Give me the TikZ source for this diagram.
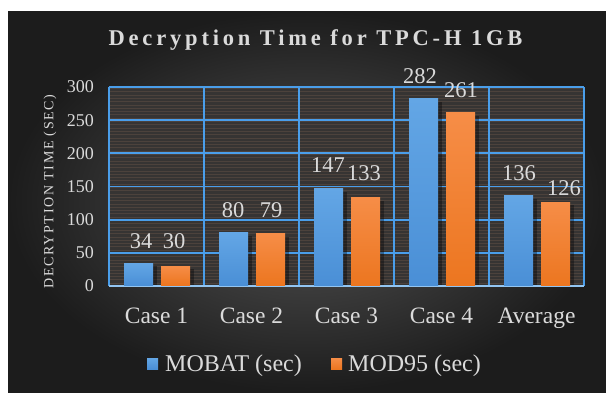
\documentclass[tikz,border=0pt]{standalone}
\usepackage{fontspec}
\setmainfont{Liberation Serif}
\definecolor{bgin}{HTML}{555555}
\definecolor{bgout}{HTML}{1C1C1C}
\definecolor{txt}{HTML}{DADADA}
\definecolor{gridc}{HTML}{4A9EEA}
\definecolor{plotbg}{HTML}{363433}
\definecolor{stripec}{HTML}{564840}
\definecolor{blueTop}{HTML}{63A6E5}
\definecolor{blueBot}{HTML}{4A8FD6}
\definecolor{orTop}{HTML}{F68D47}
\definecolor{orBot}{HTML}{EC7620}
\tikzset{
  txtfont/.style={text=txt, inner sep=0pt},
  valuelbl/.style={txtfont, anchor=base, font=\fontsize{22.5pt}{24pt}\selectfont},
  ticklbl/.style={txtfont, anchor=east, font=\fontsize{18pt}{20pt}\selectfont},
  catlbl/.style={txtfont, anchor=base, font=\fontsize{23.5pt}{25pt}\selectfont},
  leglbl/.style={txtfont, anchor=base west, font=\fontsize{24pt}{26pt}\selectfont},
  gridline/.style={draw=gridc, line width=1.8pt},
  stripe/.style={draw=stripec, line width=1pt, opacity=0.7},
  bluebar/.style={top color=blueTop, bottom color=blueBot},
  orbar/.style={top color=orTop, bottom color=orBot},
  barshadow/.style={fill=black, opacity=0.35},
}
\begin{document}
\begin{tikzpicture}[x=1pt, y=-1pt]
\useasboundingbox (0,0) rectangle (606,392);
\fill[white] (0,0) rectangle (606,392);
% dark backdrop with a soft central glow
\shade[inner color=bgin, outer color=bgout] (8,11) rectangle (606,392);

% title
\node[txtfont, font=\fontsize{22.5pt}{24pt}\selectfont\bfseries\addfontfeature{LetterSpace=17}]
  (title) at (315.5,40) {Decryption Time for TPC-H 1GB};

% plot area with fine horizontal hatching
\fill[plotbg] (109,87) rectangle (584,286);
\begin{scope}
  \clip (109,87) rectangle (584,286);
  \foreach \k in {0,...,61} \draw[stripe] (109,{88.5+\k*3.3}) -- (584,{88.5+\k*3.3});
\end{scope}

% grid
\foreach \v in {0,50,...,300}
  \draw[gridline] (109,{286-\v*0.6633}) -- (584,{286-\v*0.6633});
\foreach \i in {0,...,5}
  \draw[gridline] ({109+95*\i},87) -- ({109+95*\i},286);
\draw[draw=gridc!60!white, line width=1.5pt] (109,286) -- (584,286);

% bars: category, MOBAT value, MOD95 value
\foreach \i/\a/\b in {0/34/30, 1/80/79, 2/147/133, 3/282/261, 4/136/126} {
  \fill[barshadow] ({109+95*\i+44},{286-\a*0.6633+3}) rectangle ({109+95*\i+48},285);
  \fill[barshadow] ({109+95*\i+81},{286-\b*0.6633+3}) rectangle ({109+95*\i+85},285);
  \shade[bluebar] ({109+95*\i+15},{286-\a*0.6633}) rectangle ({109+95*\i+44},285);
  \shade[orbar] ({109+95*\i+52},{286-\b*0.6633}) rectangle ({109+95*\i+81},285);
}

% value labels
\node[valuelbl] (v1a) at (141,248) {34};
\node[valuelbl] (v1b) at (174,248) {30};
\node[valuelbl] (v2a) at (233,217) {80};
\node[valuelbl] (v2b) at (271,217) {79};
\node[valuelbl] (v3a) at (328,172) {147};
\node[valuelbl] (v3b) at (364,180) {133};
\node[valuelbl] (v4a) at (420,83) {282};
\node[valuelbl] (v4b) at (461,97) {261};
\node[valuelbl] (v5a) at (519,180) {136};
\node[valuelbl] (v5b) at (564,195) {126};

% y axis tick labels
\foreach \v in {0,50,...,300}
  \node[ticklbl] (tick\v) at (94,{286-\v*0.6633}) {\v};

% y axis title
\node[txtfont, rotate=90, font=\fontsize{14pt}{15pt}\selectfont\addfontfeature{LetterSpace=12}]
  (ytitle) at (50,191.5) {DECRYPTION TIME (SEC)};

% category labels
\node[catlbl] (c1) at (156.5,323) {Case 1};
\node[catlbl] (c2) at (251.5,323) {Case 2};
\node[catlbl] (c3) at (346.5,323) {Case 3};
\node[catlbl] (c4) at (441.5,323) {Case 4};
\node[catlbl] (c5) at (536.5,323) {Average};

% legend
\shade[bluebar] (147,358) rectangle (158,369);
\node[leglbl] (leg1) at (165,371) {MOBAT (sec)};
\shade[orbar] (331,358) rectangle (342,369);
\node[leglbl] (leg2) at (348,371) {MOD95 (sec)};
\end{tikzpicture}
\end{document}
